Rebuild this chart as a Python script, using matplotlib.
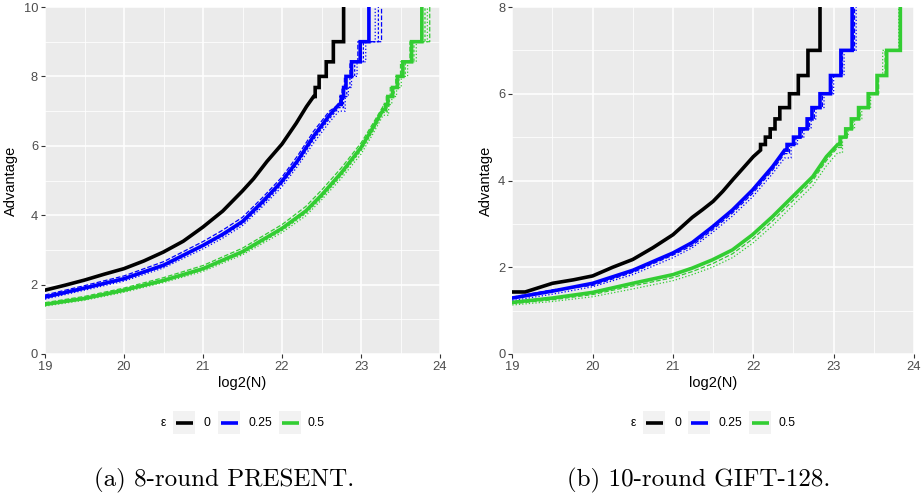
import numpy as np
import matplotlib
matplotlib.use("Agg")
import matplotlib.pyplot as plt
from matplotlib.lines import Line2D
from matplotlib.patches import Rectangle
from matplotlib.ticker import MultipleLocator

# ---- data ----
# (a) 8-round PRESENT, advantage capped at 10
pres_black_x = [19.0, 19.25, 19.5, 19.75, 20.0, 20.25, 20.5, 20.75, 21.0, 21.25, 21.5, 21.64, 21.81, 22.0, 22.18, 22.31, 22.40]
pres_black_y = [1.84, 1.98, 2.13, 2.3, 2.46, 2.68, 2.94, 3.25, 3.66, 4.12, 4.7, 5.05, 5.55, 6.05, 6.65, 7.13, 7.42]
pres_black_jump = [22.42, 22.47, 22.56, 22.65, 22.78]
pres_black_lvl = [7.68, 8.0, 8.42, 9.0, 10.0]

pres_blue_x = [19.0, 19.5, 20.0, 20.5, 21.0, 21.25, 21.5, 21.75, 22.0, 22.2, 22.4, 22.6, 22.72]
pres_blue_y = [1.64, 1.9, 2.17, 2.56, 3.13, 3.45, 3.82, 4.38, 4.98, 5.58, 6.28, 6.88, 7.19]
pres_blue_jump = [22.75, 22.78, 22.81, 22.88, 22.99, 23.10]
pres_blue_lvl = [7.42, 7.68, 8.0, 8.42, 9.0, 10.0]
pres_blue_v1_y = [1.58, 1.84, 2.1, 2.48, 3.03, 3.34, 3.7, 4.24, 4.82, 5.42, 6.08, 6.68, 7.0]
pres_blue_v1_jump = [22.80, 22.84, 22.88, 22.95, 23.06, 23.18]
pres_blue_v2_y = [1.7, 1.97, 2.25, 2.66, 3.24, 3.57, 3.94, 4.5, 5.1, 5.72, 6.42, 7.0, 7.19]
pres_blue_v2_jump = [22.73, 22.76, 22.79, 22.86, 22.96, 23.26]
pres_blue_v3_y = [1.62, 1.88, 2.14, 2.52, 3.1, 3.4, 3.76, 4.3, 4.9, 5.5, 6.18, 6.78, 7.1]
pres_blue_v3_jump = [22.78, 22.82, 22.86, 22.92, 23.03, 23.22]

pres_green_x = [19.0, 19.5, 20.0, 20.5, 21.0, 21.5, 22.0, 22.3, 22.5, 22.75, 23.0, 23.15, 23.28]
pres_green_y = [1.43, 1.6, 1.84, 2.12, 2.46, 2.95, 3.62, 4.12, 4.58, 5.22, 5.95, 6.52, 7.04]
pres_green_jump = [23.31, 23.34, 23.40, 23.46, 23.53, 23.64, 23.77]
pres_green_lvl = [7.19, 7.42, 7.68, 8.0, 8.42, 9.0, 10.0]
pres_green_v1_y = [1.38, 1.55, 1.78, 2.06, 2.38, 2.86, 3.5, 3.98, 4.44, 5.06, 5.76, 6.34, 6.88]
pres_green_v1_jump = [23.35, 23.39, 23.45, 23.51, 23.59, 23.70, 23.84]
pres_green_v2_y = [1.48, 1.66, 1.9, 2.2, 2.55, 3.05, 3.73, 4.25, 4.72, 5.36, 6.08, 6.64, 7.14]
pres_green_v2_jump = [23.29, 23.32, 23.37, 23.44, 23.50, 23.62, 23.87]
pres_green_v3_y = [1.41, 1.58, 1.81, 2.09, 2.42, 2.9, 3.56, 4.05, 4.5, 5.14, 5.86, 6.42, 6.96]
pres_green_v3_jump = [23.33, 23.36, 23.42, 23.48, 23.56, 23.67, 23.81]

# (b) 10-round GIFT-128, advantage capped at 8
gift_black_x = [19.0, 19.16, 19.5, 19.76, 20.0, 20.25, 20.5, 20.75, 21.0, 21.12, 21.24, 21.37, 21.5, 21.62, 21.75, 21.88, 22.0, 22.09]
gift_black_y = [1.43, 1.43, 1.63, 1.71, 1.8, 2.0, 2.18, 2.45, 2.75, 2.95, 3.15, 3.33, 3.52, 3.75, 4.03, 4.3, 4.55, 4.7]
gift_black_jump = [22.09, 22.15, 22.21, 22.27, 22.33, 22.45, 22.56, 22.68, 22.83]
gift_black_lvl = [4.83, 5.0, 5.19, 5.42, 5.68, 6.0, 6.42, 7.0, 8.0]

gift_blue_x = [19.0, 19.5, 20.0, 20.5, 21.0, 21.24, 21.49, 21.74, 21.99, 22.24, 22.39]
gift_blue_y = [1.29, 1.45, 1.63, 1.93, 2.33, 2.57, 2.93, 3.32, 3.78, 4.32, 4.7]
gift_blue_jump = [22.42, 22.5, 22.58, 22.67, 22.73, 22.83, 22.96, 23.09, 23.23]
gift_blue_lvl = [4.83, 5.0, 5.19, 5.42, 5.68, 6.0, 6.42, 7.0, 8.0]
gift_blue_v1_y = [1.23, 1.38, 1.55, 1.83, 2.22, 2.45, 2.8, 3.18, 3.62, 4.16, 4.52]
gift_blue_v1_jump = [22.47, 22.55, 22.63, 22.72, 22.78, 22.88, 23.0, 23.13, 23.28]
gift_blue_v2_y = [1.31, 1.48, 1.58, 1.88, 2.28, 2.5, 2.86, 3.25, 3.7, 4.24, 4.62]
gift_blue_v2_jump = [22.45, 22.53, 22.61, 22.70, 22.76, 22.86, 22.98, 23.11, 23.26]

gift_green_x = [19.0, 19.5, 20.0, 20.5, 21.0, 21.24, 21.49, 21.74, 21.99, 22.24, 22.49, 22.74, 22.91, 23.05]
gift_green_y = [1.19, 1.29, 1.42, 1.63, 1.83, 1.98, 2.17, 2.4, 2.75, 3.17, 3.63, 4.09, 4.55, 4.83]
gift_green_jump = [23.08, 23.15, 23.22, 23.31, 23.43, 23.54, 23.66, 23.83]
gift_green_lvl = [5.0, 5.19, 5.42, 5.68, 6.0, 6.42, 7.0, 8.0]
gift_green_v1_y = [1.13, 1.21, 1.32, 1.5, 1.69, 1.83, 2.0, 2.22, 2.55, 2.96, 3.42, 3.88, 4.34, 4.64]
gift_green_v1_jump = [23.11, 23.18, 23.26, 23.35, 23.46, 23.55, 23.61, 23.81]
gift_green_v2_y = [1.16, 1.25, 1.37, 1.57, 1.76, 1.9, 2.08, 2.31, 2.65, 3.07, 3.53, 4.0, 4.46, 4.76]
gift_green_v2_jump = [23.10, 23.17, 23.24, 23.33, 23.45, 23.56, 23.64, 23.82]

eps_labels = ["0", "0.25", "0.5"]
eps_colors = ["#000000", "#0000FF", "#32CD32"]


def step_curve(xs, ys, jumps, levels):
    # smooth part, then the rank steps up to the cap
    X, Y = list(xs), list(ys)
    cur = ys[-1]
    for j, l in zip(jumps, levels):
        X += [j, j]
        Y += [cur, l]
        cur = l
    return X, Y


def style_ax(ax, ymax, ystep):
    ax.set_facecolor("#EBEBEB")
    for s in ax.spines.values():
        s.set_visible(False)
    ax.set_xlim(19, 24)
    ax.set_ylim(0, ymax)
    ax.xaxis.set_major_locator(MultipleLocator(1))
    ax.xaxis.set_minor_locator(MultipleLocator(0.5))
    ax.yaxis.set_major_locator(MultipleLocator(ystep))
    ax.yaxis.set_minor_locator(MultipleLocator(ystep / 2))
    ax.grid(which="major", color="white", lw=1.1)
    ax.grid(which="minor", color="white", lw=0.55)
    ax.set_axisbelow(True)
    ax.tick_params(which="major", length=3.0, width=0.8, color="#333333",
                   labelcolor="#4D4D4D", labelsize=9.3, pad=2)
    ax.tick_params(which="minor", length=0)
    ax.set_xlabel("log2(N)", fontsize=10.5, labelpad=2)
    ax.set_ylabel("Advantage", fontsize=10.5, labelpad=4)


plt.rcParams["font.family"] = ["Liberation Sans", "DejaVu Sans"]
fig = plt.figure(figsize=(9.21, 4.96), dpi=100)

W, H = 921.0, 496.0
ax1 = fig.add_axes([45 / W, 1 - 354 / H, 395 / W, 347 / H])
ax2 = fig.add_axes([512.3 / W, 1 - 354 / H, 401.7 / W, 347 / H])

style_ax(ax1, 10, 2)
style_ax(ax2, 8, 2)

thick = 2.6
thin = 0.9

# PRESENT
for vy, vj, ls in [(pres_blue_v1_y, pres_blue_v1_jump, ":"),
                   (pres_blue_v2_y, pres_blue_v2_jump, "--"),
                   (pres_blue_v3_y, pres_blue_v3_jump, (0, (2, 1.5)))]:
    X, Y = step_curve(pres_blue_x, vy, vj, pres_blue_lvl)
    ax1.plot(X, Y, color=eps_colors[1], lw=thin, ls=ls)
for vy, vj, ls in [(pres_green_v1_y, pres_green_v1_jump, ":"),
                   (pres_green_v2_y, pres_green_v2_jump, "--"),
                   (pres_green_v3_y, pres_green_v3_jump, (0, (2, 1.5)))]:
    X, Y = step_curve(pres_green_x, vy, vj, pres_green_lvl)
    ax1.plot(X, Y, color=eps_colors[2], lw=thin, ls=ls)
X, Y = step_curve(pres_green_x, pres_green_y, pres_green_jump, pres_green_lvl)
ax1.plot(X, Y, color=eps_colors[2], lw=thick, solid_joinstyle="miter")
X, Y = step_curve(pres_blue_x, pres_blue_y, pres_blue_jump, pres_blue_lvl)
ax1.plot(X, Y, color=eps_colors[1], lw=thick, solid_joinstyle="miter")
X, Y = step_curve(pres_black_x, pres_black_y, pres_black_jump, pres_black_lvl)
ax1.plot(X, Y, color=eps_colors[0], lw=thick, solid_joinstyle="miter")

# GIFT-128
for vy, vj, ls in [(gift_blue_v1_y, gift_blue_v1_jump, ":"), (gift_blue_v2_y, gift_blue_v2_jump, "--")]:
    X, Y = step_curve(gift_blue_x, vy, vj, gift_blue_lvl)
    ax2.plot(X, Y, color=eps_colors[1], lw=thin, ls=ls)
for vy, vj, ls in [(gift_green_v1_y, gift_green_v1_jump, ":"), (gift_green_v2_y, gift_green_v2_jump, "--")]:
    X, Y = step_curve(gift_green_x, vy, vj, gift_green_lvl)
    ax2.plot(X, Y, color=eps_colors[2], lw=thin, ls=ls)
X, Y = step_curve(gift_green_x, gift_green_y, gift_green_jump, gift_green_lvl)
ax2.plot(X, Y, color=eps_colors[2], lw=thick, solid_joinstyle="miter")
X, Y = step_curve(gift_blue_x, gift_blue_y, gift_blue_jump, gift_blue_lvl)
ax2.plot(X, Y, color=eps_colors[1], lw=thick, solid_joinstyle="miter")
X, Y = step_curve(gift_black_x, gift_black_y, gift_black_jump, gift_black_lvl)
ax2.plot(X, Y, color=eps_colors[0], lw=thick, solid_joinstyle="miter")


# ggplot-like legends under each panel (figure pixel coords)
def legend_at(x0):
    yc = 1 - 423 / H
    fig.text((x0 + 163) / W, yc, "ε", fontsize=8.8, ha="center", va="center", color="black")
    boxes = [173, 218, 279]
    labs = [204, 248, 308]
    for bx, lx, lab, col in zip(boxes, labs, eps_labels, eps_colors):
        fig.patches.append(Rectangle(((x0 + bx) / W, 1 - 434 / H), 22 / W, 23 / H,
                                     transform=fig.transFigure, facecolor="#F2F2F2",
                                     edgecolor="none"))
        fig.lines.append(Line2D([(x0 + bx + 2.5) / W, (x0 + bx + 19.5) / W], [yc, yc],
                                transform=fig.transFigure, color=col, lw=2.6,
                                solid_capstyle="butt"))
        fig.text((x0 + lx) / W, yc, lab, fontsize=8.8, ha="left", va="center", color="black")


legend_at(0)
legend_at(470)

fig.text(224.5 / W, 1 - 480 / H, "(a) 8-round PRESENT.", family="cmr10",
         fontsize=18, ha="center", va="center")
fig.text(699 / W, 1 - 480 / H, "(b) 10-round GIFT-128.", family="cmr10",
         fontsize=18, ha="center", va="center")

fig.savefig("out.png", dpi=100)
